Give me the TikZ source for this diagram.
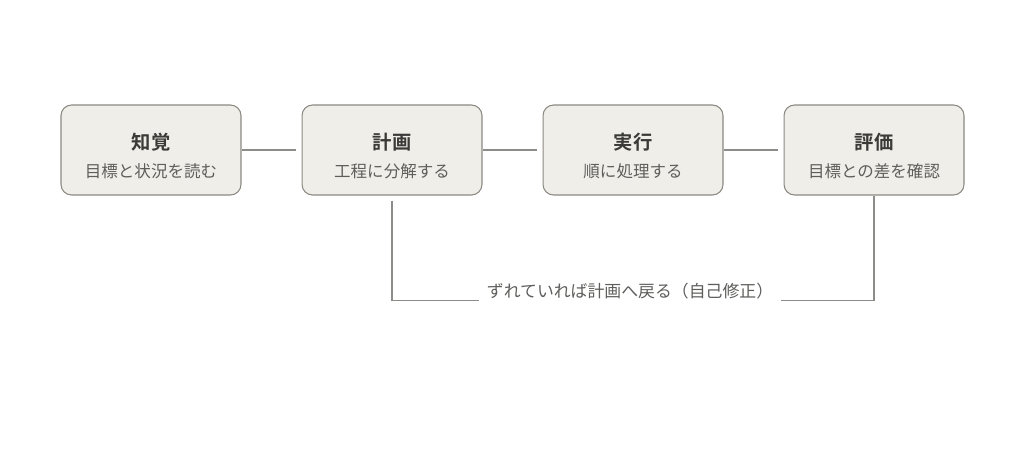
\documentclass[tikz,border=0pt]{standalone}
\usepackage{fontspec}
\setmainfont{Noto Sans CJK JP}[BoldFont={Noto Sans CJK JP Bold}]
\usetikzlibrary{positioning}
\definecolor{boxfill}{HTML}{F0EEE8}
\definecolor{boxline}{HTML}{8C8982}
\definecolor{wire}{HTML}{8E8C88}
\definecolor{titletext}{HTML}{3A3A38}
\definecolor{subtext}{HTML}{5E5E5C}
\newcommand{\stagetext}[2]{{\rule{0pt}{16pt}\fontsize{11pt}{13pt}\selectfont\bfseries\color{titletext}#1}\\[3.6pt]{\fontsize{9.4pt}{11pt}\selectfont\color{subtext}#2}}

\begin{document}
\begin{tikzpicture}[
    x=0.02cm, y=-0.02cm,
    stagebox/.style={draw=boxline, fill=boxfill, rounded corners=6pt,
                     minimum width=3.6cm, minimum height=1.8cm,
                     align=center, inner sep=0pt, line width=0.6pt},
    wireline/.style={draw=wire, line width=1pt},
    note/.style={fill=white, font=\fontsize{9.6pt}{11pt}\selectfont,
                 text=subtext, inner xsep=4.5pt, inner ysep=4pt},
    node distance=1.2cm
  ]
  \useasboundingbox (0,0) rectangle (1024,452);
  % Stages
  \node[stagebox] (perceive) at (151,150) {\stagetext{知覚}{目標と状況を読む}};
  \node[stagebox, right=of perceive] (plan) {\stagetext{計画}{工程に分解する}};
  \node[stagebox, right=of plan] (execute) {\stagetext{実行}{順に処理する}};
  \node[stagebox, right=of execute] (evaluate) {\stagetext{評価}{目標との差を確認}};
  % Forward links
  \draw[wireline] (perceive.east) -- ([xshift=-0.12cm]plan.west);
  \draw[wireline] (plan.east) -- ([xshift=-0.12cm]execute.west);
  \draw[wireline] (execute.east) -- ([xshift=-0.12cm]evaluate.west);
  % Feedback loop
  \coordinate (loopL) at ([yshift=-2.1cm]plan.south);
  \draw[wireline] ([yshift=-0.1cm]plan.south) -- (loopL) -| (evaluate.south);
  \node[note] (feedback) at (630,291) {ずれていれば計画へ戻る（自己修正）};
\end{tikzpicture}
\end{document}
